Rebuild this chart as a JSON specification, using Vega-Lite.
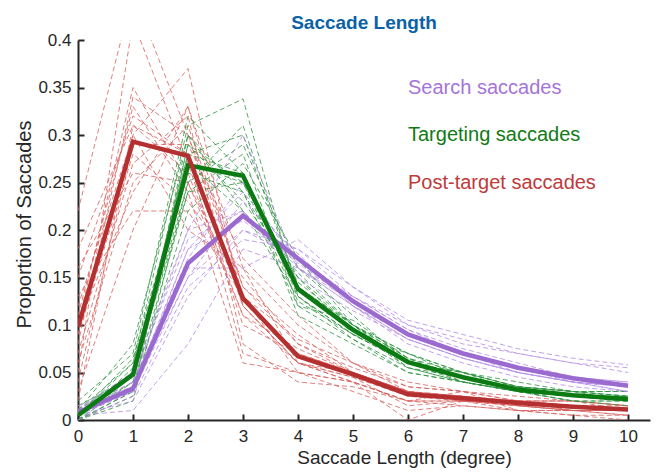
{
  "$schema": "https://vega.github.io/schema/vega-lite/v6.json",
  "width": 572,
  "height": 380,
  "autosize": "none",
  "padding": {"left": 78, "top": 40, "right": 14, "bottom": 52},
  "background": "white",
  "config": {
    "view": {"stroke": null},
    "font": "Liberation Sans",
    "axis": {
      "grid": false,
      "domainColor": "#262626",
      "domainWidth": 2,
      "tickColor": "#262626",
      "tickWidth": 2,
      "tickSize": -6,
      "labelFont": "Liberation Sans",
      "labelFontSize": 17,
      "labelColor": "#262626",
      "titleFont": "Liberation Sans",
      "titleFontWeight": "normal",
      "titleColor": "#262626"
    }
  },
  "title": {
    "text": "Saccade Length",
    "fontSize": 19,
    "fontWeight": "bold",
    "color": "#0A62A8",
    "font": "Liberation Sans",
    "anchor": "middle",
    "offset": -2
  },
  "datasets": {
    "ind": [
      {"g":"P","s":1,"x":0,"y":0.22},{"g":"P","s":1,"x":1,"y":0.45},{"g":"P","s":1,"x":2,"y":0.30},{"g":"P","s":1,"x":3,"y":0.12},{"g":"P","s":1,"x":4,"y":0.06},{"g":"P","s":1,"x":5,"y":0.04},{"g":"P","s":1,"x":6,"y":0.02},{"g":"P","s":1,"x":7,"y":0.02},{"g":"P","s":1,"x":8,"y":0.015},{"g":"P","s":1,"x":9,"y":0.01},{"g":"P","s":1,"x":10,"y":0.01},
      {"g":"P","s":2,"x":0,"y":0.05},{"g":"P","s":2,"x":1,"y":0.42},{"g":"P","s":2,"x":2,"y":0.27},{"g":"P","s":2,"x":3,"y":0.10},{"g":"P","s":2,"x":4,"y":0.07},{"g":"P","s":2,"x":5,"y":0.05},{"g":"P","s":2,"x":6,"y":0.03},{"g":"P","s":2,"x":7,"y":0.02},{"g":"P","s":2,"x":8,"y":0.02},{"g":"P","s":2,"x":9,"y":0.01},{"g":"P","s":2,"x":10,"y":0.005},
      {"g":"P","s":3,"x":0,"y":0.10},{"g":"P","s":3,"x":1,"y":0.35},{"g":"P","s":3,"x":2,"y":0.25},{"g":"P","s":3,"x":3,"y":0.13},{"g":"P","s":3,"x":4,"y":0.05},{"g":"P","s":3,"x":5,"y":0.04},{"g":"P","s":3,"x":6,"y":0.02},{"g":"P","s":3,"x":7,"y":0.03},{"g":"P","s":3,"x":8,"y":0.01},{"g":"P","s":3,"x":9,"y":0.01},{"g":"P","s":3,"x":10,"y":0.01},
      {"g":"P","s":4,"x":0,"y":0.08},{"g":"P","s":4,"x":1,"y":0.34},{"g":"P","s":4,"x":2,"y":0.30},{"g":"P","s":4,"x":3,"y":0.14},{"g":"P","s":4,"x":4,"y":0.08},{"g":"P","s":4,"x":5,"y":0.05},{"g":"P","s":4,"x":6,"y":0.03},{"g":"P","s":4,"x":7,"y":0.02},{"g":"P","s":4,"x":8,"y":0.02},{"g":"P","s":4,"x":9,"y":0.02},{"g":"P","s":4,"x":10,"y":0.015},
      {"g":"P","s":5,"x":0,"y":0.12},{"g":"P","s":5,"x":1,"y":0.30},{"g":"P","s":5,"x":2,"y":0.37},{"g":"P","s":5,"x":3,"y":0.12},{"g":"P","s":5,"x":4,"y":0.06},{"g":"P","s":5,"x":5,"y":0.05},{"g":"P","s":5,"x":6,"y":0.03},{"g":"P","s":5,"x":7,"y":0.025},{"g":"P","s":5,"x":8,"y":0.02},{"g":"P","s":5,"x":9,"y":0.015},{"g":"P","s":5,"x":10,"y":0.01},
      {"g":"P","s":6,"x":0,"y":0.03},{"g":"P","s":6,"x":1,"y":0.20},{"g":"P","s":6,"x":2,"y":0.33},{"g":"P","s":6,"x":3,"y":0.16},{"g":"P","s":6,"x":4,"y":0.10},{"g":"P","s":6,"x":5,"y":0.06},{"g":"P","s":6,"x":6,"y":0.04},{"g":"P","s":6,"x":7,"y":0.03},{"g":"P","s":6,"x":8,"y":0.02},{"g":"P","s":6,"x":9,"y":0.02},{"g":"P","s":6,"x":10,"y":0.01},
      {"g":"P","s":7,"x":0,"y":0.15},{"g":"P","s":7,"x":1,"y":0.32},{"g":"P","s":7,"x":2,"y":0.28},{"g":"P","s":7,"x":3,"y":0.07},{"g":"P","s":7,"x":4,"y":0.05},{"g":"P","s":7,"x":5,"y":0.04},{"g":"P","s":7,"x":6,"y":0.02},{"g":"P","s":7,"x":7,"y":0.015},{"g":"P","s":7,"x":8,"y":0.01},{"g":"P","s":7,"x":9,"y":0.005},{"g":"P","s":7,"x":10,"y":0.005},
      {"g":"P","s":8,"x":0,"y":0.06},{"g":"P","s":8,"x":1,"y":0.25},{"g":"P","s":8,"x":2,"y":0.31},{"g":"P","s":8,"x":3,"y":0.14},{"g":"P","s":8,"x":4,"y":0.09},{"g":"P","s":8,"x":5,"y":0.05},{"g":"P","s":8,"x":6,"y":0.03},{"g":"P","s":8,"x":7,"y":0.02},{"g":"P","s":8,"x":8,"y":0.02},{"g":"P","s":8,"x":9,"y":0.015},{"g":"P","s":8,"x":10,"y":0.01},
      {"g":"P","s":9,"x":0,"y":0.18},{"g":"P","s":9,"x":1,"y":0.31},{"g":"P","s":9,"x":2,"y":0.26},{"g":"P","s":9,"x":3,"y":0.11},{"g":"P","s":9,"x":4,"y":0.06},{"g":"P","s":9,"x":5,"y":0.045},{"g":"P","s":9,"x":6,"y":0.025},{"g":"P","s":9,"x":7,"y":0.02},{"g":"P","s":9,"x":8,"y":0.015},{"g":"P","s":9,"x":9,"y":0.01},{"g":"P","s":9,"x":10,"y":0.01},
      {"g":"P","s":10,"x":0,"y":0.09},{"g":"P","s":10,"x":1,"y":0.28},{"g":"P","s":10,"x":2,"y":0.23},{"g":"P","s":10,"x":3,"y":0.15},{"g":"P","s":10,"x":4,"y":0.08},{"g":"P","s":10,"x":5,"y":0.055},{"g":"P","s":10,"x":6,"y":0.035},{"g":"P","s":10,"x":7,"y":0.03},{"g":"P","s":10,"x":8,"y":0.025},{"g":"P","s":10,"x":9,"y":0.02},{"g":"P","s":10,"x":10,"y":0.015},
      {"g":"P","s":11,"x":0,"y":0.04},{"g":"P","s":11,"x":1,"y":0.29},{"g":"P","s":11,"x":2,"y":0.29},{"g":"P","s":11,"x":3,"y":0.17},{"g":"P","s":11,"x":4,"y":0.11},{"g":"P","s":11,"x":5,"y":0.06},{"g":"P","s":11,"x":6,"y":0.03},{"g":"P","s":11,"x":7,"y":0.02},{"g":"P","s":11,"x":8,"y":0.02},{"g":"P","s":11,"x":9,"y":0.015},{"g":"P","s":11,"x":10,"y":0.01},
      {"g":"P","s":12,"x":0,"y":0.11},{"g":"P","s":12,"x":1,"y":0.33},{"g":"P","s":12,"x":2,"y":0.24},{"g":"P","s":12,"x":3,"y":0.06},{"g":"P","s":12,"x":4,"y":0.05},{"g":"P","s":12,"x":5,"y":0.03},{"g":"P","s":12,"x":6,"y":0.01},{"g":"P","s":12,"x":7,"y":0.015},{"g":"P","s":12,"x":8,"y":0.01},{"g":"P","s":12,"x":9,"y":0.01},{"g":"P","s":12,"x":10,"y":0.005},
      {"g":"P","s":13,"x":0,"y":0.07},{"g":"P","s":13,"x":1,"y":0.27},{"g":"P","s":13,"x":2,"y":0.32},{"g":"P","s":13,"x":3,"y":0.08},{"g":"P","s":13,"x":4,"y":0.04},{"g":"P","s":13,"x":5,"y":0.035},{"g":"P","s":13,"x":6,"y":0.02},{"g":"P","s":13,"x":7,"y":0.02},{"g":"P","s":13,"x":8,"y":0.015},{"g":"P","s":13,"x":9,"y":0.01},{"g":"P","s":13,"x":10,"y":0.01},
      {"g":"P","s":14,"x":0,"y":0.13},{"g":"P","s":14,"x":1,"y":0.22},{"g":"P","s":14,"x":2,"y":0.22},{"g":"P","s":14,"x":3,"y":0.13},{"g":"P","s":14,"x":4,"y":0.085},{"g":"P","s":14,"x":5,"y":0.06},{"g":"P","s":14,"x":6,"y":0.035},{"g":"P","s":14,"x":7,"y":0.03},{"g":"P","s":14,"x":8,"y":0.02},{"g":"P","s":14,"x":9,"y":0.015},{"g":"P","s":14,"x":10,"y":0.015},
      {"g":"P","s":15,"x":0,"y":0.02},{"g":"P","s":15,"x":1,"y":0.31},{"g":"P","s":15,"x":2,"y":0.28},{"g":"P","s":15,"x":3,"y":0.12},{"g":"P","s":15,"x":4,"y":0.06},{"g":"P","s":15,"x":5,"y":0.045},{"g":"P","s":15,"x":6,"y":0.015},{"g":"P","s":15,"x":7,"y":0.02},{"g":"P","s":15,"x":8,"y":0.01},{"g":"P","s":15,"x":9,"y":0.005},{"g":"P","s":15,"x":10,"y":0.0},
      {"g":"P","s":16,"x":0,"y":0.16},{"g":"P","s":16,"x":1,"y":0.26},{"g":"P","s":16,"x":2,"y":0.25},{"g":"P","s":16,"x":3,"y":0.11},{"g":"P","s":16,"x":4,"y":0.075},{"g":"P","s":16,"x":5,"y":0.05},{"g":"P","s":16,"x":6,"y":0.03},{"g":"P","s":16,"x":7,"y":0.025},{"g":"P","s":16,"x":8,"y":0.02},{"g":"P","s":16,"x":9,"y":0.015},{"g":"P","s":16,"x":10,"y":0.01},
      {"g":"P","s":17,"x":0,"y":0.09},{"g":"P","s":17,"x":1,"y":0.30},{"g":"P","s":17,"x":2,"y":0.20},{"g":"P","s":17,"x":3,"y":0.16},{"g":"P","s":17,"x":4,"y":0.06},{"g":"P","s":17,"x":5,"y":0.04},{"g":"P","s":17,"x":6,"y":0.0},{"g":"P","s":17,"x":7,"y":0.02},{"g":"P","s":17,"x":8,"y":0.02},{"g":"P","s":17,"x":9,"y":0.02},{"g":"P","s":17,"x":10,"y":0.015},
      {"g":"P","s":18,"x":0,"y":0.10},{"g":"P","s":18,"x":1,"y":0.24},{"g":"P","s":18,"x":2,"y":0.33},{"g":"P","s":18,"x":3,"y":0.13},{"g":"P","s":18,"x":4,"y":0.07},{"g":"P","s":18,"x":5,"y":0.05},{"g":"P","s":18,"x":6,"y":0.03},{"g":"P","s":18,"x":7,"y":0.025},{"g":"P","s":18,"x":8,"y":0.015},{"g":"P","s":18,"x":9,"y":0.01},{"g":"P","s":18,"x":10,"y":0.01},

      {"g":"T","s":21,"x":0,"y":0.01},{"g":"T","s":21,"x":1,"y":0.06},{"g":"T","s":21,"x":2,"y":0.31},{"g":"T","s":21,"x":3,"y":0.338},{"g":"T","s":21,"x":4,"y":0.13},{"g":"T","s":21,"x":5,"y":0.09},{"g":"T","s":21,"x":6,"y":0.06},{"g":"T","s":21,"x":7,"y":0.04},{"g":"T","s":21,"x":8,"y":0.03},{"g":"T","s":21,"x":9,"y":0.025},{"g":"T","s":21,"x":10,"y":0.02},
      {"g":"T","s":22,"x":0,"y":0.0},{"g":"T","s":22,"x":1,"y":0.03},{"g":"T","s":22,"x":2,"y":0.29},{"g":"T","s":22,"x":3,"y":0.25},{"g":"T","s":22,"x":4,"y":0.15},{"g":"T","s":22,"x":5,"y":0.10},{"g":"T","s":22,"x":6,"y":0.065},{"g":"T","s":22,"x":7,"y":0.05},{"g":"T","s":22,"x":8,"y":0.035},{"g":"T","s":22,"x":9,"y":0.03},{"g":"T","s":22,"x":10,"y":0.025},
      {"g":"T","s":23,"x":0,"y":0.005},{"g":"T","s":23,"x":1,"y":0.05},{"g":"T","s":23,"x":2,"y":0.24},{"g":"T","s":23,"x":3,"y":0.28},{"g":"T","s":23,"x":4,"y":0.12},{"g":"T","s":23,"x":5,"y":0.085},{"g":"T","s":23,"x":6,"y":0.055},{"g":"T","s":23,"x":7,"y":0.04},{"g":"T","s":23,"x":8,"y":0.03},{"g":"T","s":23,"x":9,"y":0.02},{"g":"T","s":23,"x":10,"y":0.02},
      {"g":"T","s":24,"x":0,"y":0.01},{"g":"T","s":24,"x":1,"y":0.08},{"g":"T","s":24,"x":2,"y":0.30},{"g":"T","s":24,"x":3,"y":0.24},{"g":"T","s":24,"x":4,"y":0.14},{"g":"T","s":24,"x":5,"y":0.10},{"g":"T","s":24,"x":6,"y":0.07},{"g":"T","s":24,"x":7,"y":0.05},{"g":"T","s":24,"x":8,"y":0.03},{"g":"T","s":24,"x":9,"y":0.025},{"g":"T","s":24,"x":10,"y":0.02},
      {"g":"T","s":25,"x":0,"y":0.0},{"g":"T","s":25,"x":1,"y":0.02},{"g":"T","s":25,"x":2,"y":0.25},{"g":"T","s":25,"x":3,"y":0.29},{"g":"T","s":25,"x":4,"y":0.16},{"g":"T","s":25,"x":5,"y":0.11},{"g":"T","s":25,"x":6,"y":0.06},{"g":"T","s":25,"x":7,"y":0.045},{"g":"T","s":25,"x":8,"y":0.035},{"g":"T","s":25,"x":9,"y":0.03},{"g":"T","s":25,"x":10,"y":0.025},
      {"g":"T","s":26,"x":0,"y":0.005},{"g":"T","s":26,"x":1,"y":0.04},{"g":"T","s":26,"x":2,"y":0.27},{"g":"T","s":26,"x":3,"y":0.22},{"g":"T","s":26,"x":4,"y":0.13},{"g":"T","s":26,"x":5,"y":0.09},{"g":"T","s":26,"x":6,"y":0.06},{"g":"T","s":26,"x":7,"y":0.05},{"g":"T","s":26,"x":8,"y":0.035},{"g":"T","s":26,"x":9,"y":0.03},{"g":"T","s":26,"x":10,"y":0.02},
      {"g":"T","s":27,"x":0,"y":0.02},{"g":"T","s":27,"x":1,"y":0.07},{"g":"T","s":27,"x":2,"y":0.32},{"g":"T","s":27,"x":3,"y":0.26},{"g":"T","s":27,"x":4,"y":0.11},{"g":"T","s":27,"x":5,"y":0.08},{"g":"T","s":27,"x":6,"y":0.05},{"g":"T","s":27,"x":7,"y":0.04},{"g":"T","s":27,"x":8,"y":0.03},{"g":"T","s":27,"x":9,"y":0.02},{"g":"T","s":27,"x":10,"y":0.015},
      {"g":"T","s":28,"x":0,"y":0.0},{"g":"T","s":28,"x":1,"y":0.03},{"g":"T","s":28,"x":2,"y":0.22},{"g":"T","s":28,"x":3,"y":0.27},{"g":"T","s":28,"x":4,"y":0.17},{"g":"T","s":28,"x":5,"y":0.10},{"g":"T","s":28,"x":6,"y":0.07},{"g":"T","s":28,"x":7,"y":0.05},{"g":"T","s":28,"x":8,"y":0.04},{"g":"T","s":28,"x":9,"y":0.03},{"g":"T","s":28,"x":10,"y":0.03},
      {"g":"T","s":29,"x":0,"y":0.01},{"g":"T","s":29,"x":1,"y":0.05},{"g":"T","s":29,"x":2,"y":0.28},{"g":"T","s":29,"x":3,"y":0.30},{"g":"T","s":29,"x":4,"y":0.14},{"g":"T","s":29,"x":5,"y":0.095},{"g":"T","s":29,"x":6,"y":0.055},{"g":"T","s":29,"x":7,"y":0.045},{"g":"T","s":29,"x":8,"y":0.03},{"g":"T","s":29,"x":9,"y":0.025},{"g":"T","s":29,"x":10,"y":0.02},
      {"g":"T","s":30,"x":0,"y":0.005},{"g":"T","s":30,"x":1,"y":0.06},{"g":"T","s":30,"x":2,"y":0.26},{"g":"T","s":30,"x":3,"y":0.24},{"g":"T","s":30,"x":4,"y":0.12},{"g":"T","s":30,"x":5,"y":0.105},{"g":"T","s":30,"x":6,"y":0.065},{"g":"T","s":30,"x":7,"y":0.04},{"g":"T","s":30,"x":8,"y":0.03},{"g":"T","s":30,"x":9,"y":0.025},{"g":"T","s":30,"x":10,"y":0.02},
      {"g":"T","s":31,"x":0,"y":0.0},{"g":"T","s":31,"x":1,"y":0.04},{"g":"T","s":31,"x":2,"y":0.29},{"g":"T","s":31,"x":3,"y":0.23},{"g":"T","s":31,"x":4,"y":0.15},{"g":"T","s":31,"x":5,"y":0.09},{"g":"T","s":31,"x":6,"y":0.06},{"g":"T","s":31,"x":7,"y":0.05},{"g":"T","s":31,"x":8,"y":0.035},{"g":"T","s":31,"x":9,"y":0.03},{"g":"T","s":31,"x":10,"y":0.03},
      {"g":"T","s":32,"x":0,"y":0.01},{"g":"T","s":32,"x":1,"y":0.035},{"g":"T","s":32,"x":2,"y":0.24},{"g":"T","s":32,"x":3,"y":0.25},{"g":"T","s":32,"x":4,"y":0.145},{"g":"T","s":32,"x":5,"y":0.10},{"g":"T","s":32,"x":6,"y":0.065},{"g":"T","s":32,"x":7,"y":0.045},{"g":"T","s":32,"x":8,"y":0.03},{"g":"T","s":32,"x":9,"y":0.025},{"g":"T","s":32,"x":10,"y":0.02},
      {"g":"T","s":33,"x":0,"y":0.0},{"g":"T","s":33,"x":1,"y":0.055},{"g":"T","s":33,"x":2,"y":0.28},{"g":"T","s":33,"x":3,"y":0.26},{"g":"T","s":33,"x":4,"y":0.13},{"g":"T","s":33,"x":5,"y":0.085},{"g":"T","s":33,"x":6,"y":0.05},{"g":"T","s":33,"x":7,"y":0.04},{"g":"T","s":33,"x":8,"y":0.03},{"g":"T","s":33,"x":9,"y":0.02},{"g":"T","s":33,"x":10,"y":0.02},
      {"g":"T","s":34,"x":0,"y":0.015},{"g":"T","s":34,"x":1,"y":0.045},{"g":"T","s":34,"x":2,"y":0.25},{"g":"T","s":34,"x":3,"y":0.31},{"g":"T","s":34,"x":4,"y":0.14},{"g":"T","s":34,"x":5,"y":0.10},{"g":"T","s":34,"x":6,"y":0.06},{"g":"T","s":34,"x":7,"y":0.05},{"g":"T","s":34,"x":8,"y":0.035},{"g":"T","s":34,"x":9,"y":0.03},{"g":"T","s":34,"x":10,"y":0.025},
      {"g":"T","s":35,"x":0,"y":0.005},{"g":"T","s":35,"x":1,"y":0.065},{"g":"T","s":35,"x":2,"y":0.27},{"g":"T","s":35,"x":3,"y":0.25},{"g":"T","s":35,"x":4,"y":0.125},{"g":"T","s":35,"x":5,"y":0.09},{"g":"T","s":35,"x":6,"y":0.07},{"g":"T","s":35,"x":7,"y":0.045},{"g":"T","s":35,"x":8,"y":0.03},{"g":"T","s":35,"x":9,"y":0.025},{"g":"T","s":35,"x":10,"y":0.02},
      {"g":"T","s":36,"x":0,"y":0.0},{"g":"T","s":36,"x":1,"y":0.025},{"g":"T","s":36,"x":2,"y":0.30},{"g":"T","s":36,"x":3,"y":0.22},{"g":"T","s":36,"x":4,"y":0.155},{"g":"T","s":36,"x":5,"y":0.10},{"g":"T","s":36,"x":6,"y":0.055},{"g":"T","s":36,"x":7,"y":0.04},{"g":"T","s":36,"x":8,"y":0.03},{"g":"T","s":36,"x":9,"y":0.025},{"g":"T","s":36,"x":10,"y":0.025},

      {"g":"S","s":41,"x":0,"y":0.01},{"g":"S","s":41,"x":1,"y":0.04},{"g":"S","s":41,"x":2,"y":0.20},{"g":"S","s":41,"x":3,"y":0.30},{"g":"S","s":41,"x":4,"y":0.16},{"g":"S","s":41,"x":5,"y":0.12},{"g":"S","s":41,"x":6,"y":0.085},{"g":"S","s":41,"x":7,"y":0.065},{"g":"S","s":41,"x":8,"y":0.05},{"g":"S","s":41,"x":9,"y":0.04},{"g":"S","s":41,"x":10,"y":0.03},
      {"g":"S","s":42,"x":0,"y":0.005},{"g":"S","s":42,"x":1,"y":0.01},{"g":"S","s":42,"x":2,"y":0.08},{"g":"S","s":42,"x":3,"y":0.18},{"g":"S","s":42,"x":4,"y":0.16},{"g":"S","s":42,"x":5,"y":0.13},{"g":"S","s":42,"x":6,"y":0.10},{"g":"S","s":42,"x":7,"y":0.08},{"g":"S","s":42,"x":8,"y":0.07},{"g":"S","s":42,"x":9,"y":0.06},{"g":"S","s":42,"x":10,"y":0.05},
      {"g":"S","s":43,"x":0,"y":0.015},{"g":"S","s":43,"x":1,"y":0.035},{"g":"S","s":43,"x":2,"y":0.15},{"g":"S","s":43,"x":3,"y":0.20},{"g":"S","s":43,"x":4,"y":0.18},{"g":"S","s":43,"x":5,"y":0.14},{"g":"S","s":43,"x":6,"y":0.10},{"g":"S","s":43,"x":7,"y":0.085},{"g":"S","s":43,"x":8,"y":0.07},{"g":"S","s":43,"x":9,"y":0.06},{"g":"S","s":43,"x":10,"y":0.055},
      {"g":"S","s":44,"x":0,"y":0.005},{"g":"S","s":44,"x":1,"y":0.03},{"g":"S","s":44,"x":2,"y":0.18},{"g":"S","s":44,"x":3,"y":0.24},{"g":"S","s":44,"x":4,"y":0.17},{"g":"S","s":44,"x":5,"y":0.12},{"g":"S","s":44,"x":6,"y":0.09},{"g":"S","s":44,"x":7,"y":0.07},{"g":"S","s":44,"x":8,"y":0.05},{"g":"S","s":44,"x":9,"y":0.04},{"g":"S","s":44,"x":10,"y":0.035},
      {"g":"S","s":45,"x":0,"y":0.01},{"g":"S","s":45,"x":1,"y":0.045},{"g":"S","s":45,"x":2,"y":0.19},{"g":"S","s":45,"x":3,"y":0.22},{"g":"S","s":45,"x":4,"y":0.15},{"g":"S","s":45,"x":5,"y":0.115},{"g":"S","s":45,"x":6,"y":0.085},{"g":"S","s":45,"x":7,"y":0.065},{"g":"S","s":45,"x":8,"y":0.05},{"g":"S","s":45,"x":9,"y":0.04},{"g":"S","s":45,"x":10,"y":0.035},
      {"g":"S","s":46,"x":0,"y":0.0},{"g":"S","s":46,"x":1,"y":0.025},{"g":"S","s":46,"x":2,"y":0.14},{"g":"S","s":46,"x":3,"y":0.19},{"g":"S","s":46,"x":4,"y":0.18},{"g":"S","s":46,"x":5,"y":0.13},{"g":"S","s":46,"x":6,"y":0.095},{"g":"S","s":46,"x":7,"y":0.075},{"g":"S","s":46,"x":8,"y":0.06},{"g":"S","s":46,"x":9,"y":0.045},{"g":"S","s":46,"x":10,"y":0.04},
      {"g":"S","s":47,"x":0,"y":0.01},{"g":"S","s":47,"x":1,"y":0.04},{"g":"S","s":47,"x":2,"y":0.17},{"g":"S","s":47,"x":3,"y":0.25},{"g":"S","s":47,"x":4,"y":0.16},{"g":"S","s":47,"x":5,"y":0.12},{"g":"S","s":47,"x":6,"y":0.085},{"g":"S","s":47,"x":7,"y":0.065},{"g":"S","s":47,"x":8,"y":0.05},{"g":"S","s":47,"x":9,"y":0.04},{"g":"S","s":47,"x":10,"y":0.03},
      {"g":"S","s":48,"x":0,"y":0.005},{"g":"S","s":48,"x":1,"y":0.03},{"g":"S","s":48,"x":2,"y":0.16},{"g":"S","s":48,"x":3,"y":0.16},{"g":"S","s":48,"x":4,"y":0.19},{"g":"S","s":48,"x":5,"y":0.14},{"g":"S","s":48,"x":6,"y":0.105},{"g":"S","s":48,"x":7,"y":0.09},{"g":"S","s":48,"x":8,"y":0.075},{"g":"S","s":48,"x":9,"y":0.065},{"g":"S","s":48,"x":10,"y":0.058},
      {"g":"S","s":49,"x":0,"y":0.01},{"g":"S","s":49,"x":1,"y":0.035},{"g":"S","s":49,"x":2,"y":0.18},{"g":"S","s":49,"x":3,"y":0.21},{"g":"S","s":49,"x":4,"y":0.165},{"g":"S","s":49,"x":5,"y":0.125},{"g":"S","s":49,"x":6,"y":0.09},{"g":"S","s":49,"x":7,"y":0.07},{"g":"S","s":49,"x":8,"y":0.055},{"g":"S","s":49,"x":9,"y":0.04},{"g":"S","s":49,"x":10,"y":0.035},
      {"g":"S","s":50,"x":0,"y":0.008},{"g":"S","s":50,"x":1,"y":0.03},{"g":"S","s":50,"x":2,"y":0.15},{"g":"S","s":50,"x":3,"y":0.23},{"g":"S","s":50,"x":4,"y":0.175},{"g":"S","s":50,"x":5,"y":0.12},{"g":"S","s":50,"x":6,"y":0.08},{"g":"S","s":50,"x":7,"y":0.06},{"g":"S","s":50,"x":8,"y":0.045},{"g":"S","s":50,"x":9,"y":0.035},{"g":"S","s":50,"x":10,"y":0.03},
      {"g":"S","s":51,"x":0,"y":0.012},{"g":"S","s":51,"x":1,"y":0.05},{"g":"S","s":51,"x":2,"y":0.20},{"g":"S","s":51,"x":3,"y":0.22},{"g":"S","s":51,"x":4,"y":0.16},{"g":"S","s":51,"x":5,"y":0.125},{"g":"S","s":51,"x":6,"y":0.09},{"g":"S","s":51,"x":7,"y":0.07},{"g":"S","s":51,"x":8,"y":0.055},{"g":"S","s":51,"x":9,"y":0.045},{"g":"S","s":51,"x":10,"y":0.04},
      {"g":"S","s":52,"x":0,"y":0.005},{"g":"S","s":52,"x":1,"y":0.02},{"g":"S","s":52,"x":2,"y":0.13},{"g":"S","s":52,"x":3,"y":0.20},{"g":"S","s":52,"x":4,"y":0.17},{"g":"S","s":52,"x":5,"y":0.13},{"g":"S","s":52,"x":6,"y":0.095},{"g":"S","s":52,"x":7,"y":0.07},{"g":"S","s":52,"x":8,"y":0.055},{"g":"S","s":52,"x":9,"y":0.045},{"g":"S","s":52,"x":10,"y":0.035}
    ],
    "mean": [
      {"g":"S","x":0,"y":0.008},{"g":"S","x":1,"y":0.033},{"g":"S","x":2,"y":0.165},{"g":"S","x":3,"y":0.215},{"g":"S","x":4,"y":0.17},{"g":"S","x":5,"y":0.125},{"g":"S","x":6,"y":0.09},{"g":"S","x":7,"y":0.07},{"g":"S","x":8,"y":0.055},{"g":"S","x":9,"y":0.044},{"g":"S","x":10,"y":0.036},
      {"g":"T","x":0,"y":0.005},{"g":"T","x":1,"y":0.048},{"g":"T","x":2,"y":0.268},{"g":"T","x":3,"y":0.257},{"g":"T","x":4,"y":0.138},{"g":"T","x":5,"y":0.095},{"g":"T","x":6,"y":0.061},{"g":"T","x":7,"y":0.045},{"g":"T","x":8,"y":0.032},{"g":"T","x":9,"y":0.026},{"g":"T","x":10,"y":0.022},
      {"g":"P","x":0,"y":0.098},{"g":"P","x":1,"y":0.293},{"g":"P","x":2,"y":0.278},{"g":"P","x":3,"y":0.128},{"g":"P","x":4,"y":0.067},{"g":"P","x":5,"y":0.048},{"g":"P","x":6,"y":0.027},{"g":"P","x":7,"y":0.023},{"g":"P","x":8,"y":0.018},{"g":"P","x":9,"y":0.014},{"g":"P","x":10,"y":0.011}
    ],
    "labels": [
      {"g":"S","t":"Search saccades","x":6,"y":0.35},
      {"g":"T","t":"Targeting saccades","x":6,"y":0.30},
      {"g":"P","t":"Post-target saccades","x":6,"y":0.25}
    ]
  },
  "encoding": {
    "x": {
      "field": "x", "type": "quantitative",
      "scale": {"domain": [0, 10.4], "nice": false, "zero": false},
      "axis": {"values": [0,1,2,3,4,5,6,7,8,9,10], "title": "Saccade Length (degree)", "titleFontSize": 19, "titleX": 326, "labelPadding": 14, "titlePadding": 4, "labelFlush": false}
    },
    "y": {
      "field": "y", "type": "quantitative",
      "scale": {"domain": [0, 0.4], "nice": false},
      "axis": {"values": [0,0.05,0.1,0.15,0.2,0.25,0.3,0.35,0.4], "format": "~g", "title": "Proportion of Saccades", "titleFontSize": 20, "titleY": 184, "labelPadding": 13, "titlePadding": 3, "labelFlush": false}
    }
  },
  "layer": [
    {
      "data": {"name": "ind"},
      "mark": {"type": "line", "strokeWidth": 1, "strokeDash": [5, 3], "clip": true, "opacity": 0.8},
      "encoding": {
        "detail": {"field": "s", "type": "nominal"},
        "color": {"field": "g", "type": "nominal", "scale": {"domain": ["P","T","S"], "range": ["#D85F5C","#2E9440","#B48AE6"]}, "legend": null},
        "order": {"field": "x", "type": "quantitative"}
      }
    },
    {
      "data": {"name": "mean"},
      "mark": {"type": "line", "strokeWidth": 4.5, "clip": true},
      "encoding": {
        "detail": {"field": "g", "type": "nominal"},
        "stroke": {"field": "g", "type": "nominal", "scale": {"domain": ["S","T","P"], "range": ["#9B6ACF","#0B7A12","#B42F2F"]}, "legend": null},
        "order": {"field": "x", "type": "quantitative"}
      }
    },
    {
      "data": {"name": "labels"},
      "mark": {"type": "text", "align": "left", "baseline": "middle", "fontSize": 20, "font": "Liberation Sans"},
      "encoding": {
        "text": {"field": "t"},
        "fill": {"field": "g", "type": "nominal", "scale": {"domain": ["S","T","P"], "range": ["#A574DA","#127A16","#C03A3A"]}, "legend": null}
      }
    }
  ],
  "resolve": {"scale": {"color": "independent", "stroke": "independent", "fill": "independent"}}
}
